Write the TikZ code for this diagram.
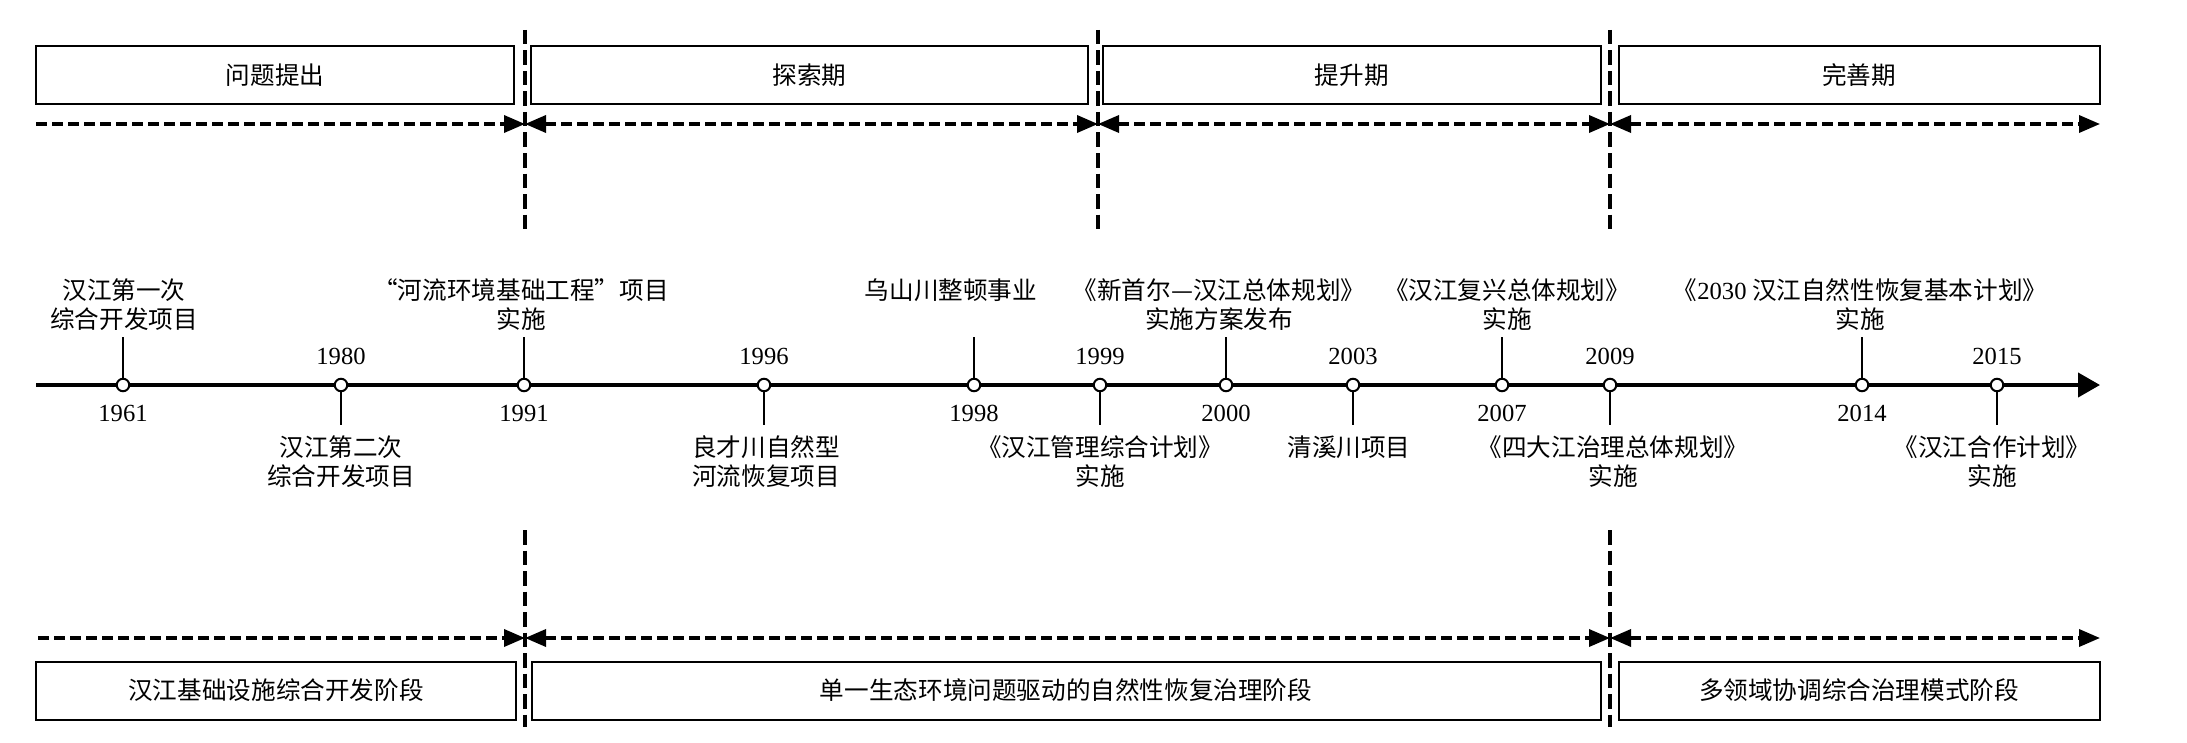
\documentclass[tikz,border=0pt]{standalone}
\usepackage{fontspec}
\setmainfont{Liberation Serif}
\newfontfamily\cjk{Noto Sans CJK SC}
\usetikzlibrary{arrows.meta}
\tikzset{
  box/.style={draw, line width=0.4mm, minimum height=11.6mm},
  divider/.style={line width=0.62mm, dash pattern=on 2.9mm off 1.2mm},
  span/.style={line width=0.7mm, dash pattern=on 2.2mm off 1mm},
  tick/.style={line width=0.4mm},
  dot/.style={circle, draw, fill=white, line width=0.4mm, minimum size=2.5mm, inner sep=0pt},
  year/.style={font=\fontsize{14}{16.5}\selectfont\rmfamily, inner sep=0pt, label distance=2.5mm},
  event/.style={align=center, anchor=north, inner sep=0pt}
}
\begin{document}
\begin{tikzpicture}[x=0.2mm, y=-0.2mm, >={Triangle[length=4.2mm, width=3.4mm]},
  every node/.style={font=\fontsize{14}{16.5}\selectfont\cjk}]
\useasboundingbox (0,0) rectangle (2187,743);
\node[box, minimum width=95.6mm] (p1) at (275,75) {问题提出};
\node[box, minimum width=111.4mm] (p2) at (809.5,75) {探索期};
\node[box, minimum width=99.5mm] (p3) at (1351.75,75) {提升期};
\node[box, minimum width=96.3mm] (p4) at (1859.25,75) {完善期};
\node[box, minimum width=95.8mm] (s1) at (276,690.5) {汉江基础设施综合开发阶段};
\node[box, minimum width=213.8mm] (s2) at (1066,690.5) {单一生态环境问题驱动的自然性恢复治理阶段};
\node[box, minimum width=96.2mm] (s3) at (1859,690.5) {多领域协调综合治理模式阶段};
\draw[divider] (525,30) -- (525,230);
\draw[divider] (1098,30) -- (1098,230);
\draw[divider] (1610,30) -- (1610,230);
\draw[divider] (525,530) -- (525,727);
\draw[divider] (1610,530) -- (1610,727);
\coordinate (t0) at (36,124);
\coordinate (t1) at (525,124);
\coordinate (t2) at (1098,124);
\coordinate (t3) at (1610,124);
\coordinate (t4) at (2100,124);
\coordinate (b0) at (38,638);
\coordinate (b1) at (525,638);
\coordinate (b3) at (1610,638);
\coordinate (b4) at (2100,638);
\tikzset{->}
\draw[span] (t0) -- (t1);
\draw[span] (b0) -- (b1);
\tikzset{<->}
\draw[span] (t1) -- (t2);
\draw[span] (t2) -- (t3);
\draw[span] (t3) -- (t4);
\draw[span] (b1) -- (b3);
\draw[span] (b3) -- (b4);
\tikzset{-}
\coordinate (a0) at (36,385);
\coordinate (a1) at (2100,385);
\draw[line width=0.8mm, -{Triangle[length=4.4mm, width=4.8mm]}] (a0) -- (a1);
\node[dot, label={[year]below:1961}] (e1961) at (123,385) {};
\draw[tick] (e1961) -- ++(0,-48);
\node[event] (x1961) at (124,278) {汉江第一次\\综合开发项目};
\node[dot, label={[year]above:1980}] (e1980) at (341,385) {};
\draw[tick] (e1980) -- ++(0,40);
\node[event] (x1980) at (341,435) {汉江第二次\\综合开发项目};
\node[dot, label={[year]below:1991}] (e1991) at (524,385) {};
\draw[tick] (e1991) -- ++(0,-48);
\node[event] (x1991) at (521,278) {“河流环境基础工程”项目\\实施};
\node[dot, label={[year]above:1996}] (e1996) at (764,385) {};
\draw[tick] (e1996) -- ++(0,40);
\node[event] (x1996) at (766,435) {良才川自然型\\河流恢复项目};
\node[dot, label={[year]below:1998}] (e1998) at (974,385) {};
\draw[tick] (e1998) -- ++(0,-48);
\node[event] (x1998) at (951,278) {乌山川整顿事业};
\node[dot, label={[year]above:1999}] (e1999) at (1100,385) {};
\draw[tick] (e1999) -- ++(0,40);
\node[event] (x1999) at (1100,435) {《汉江管理综合计划》\\实施};
\node[dot, label={[year]below:2000}] (e2000) at (1226,385) {};
\draw[tick] (e2000) -- ++(0,-48);
\node[event] (x2000) at (1219,278) {《新首尔—汉江总体规划》\\实施方案发布};
\node[dot, label={[year]above:2003}] (e2003) at (1353,385) {};
\draw[tick] (e2003) -- ++(0,40);
\node[event] (x2003) at (1349,435) {清溪川项目};
\node[dot, label={[year]below:2007}] (e2007) at (1502,385) {};
\draw[tick] (e2007) -- ++(0,-48);
\node[event] (x2007) at (1507,278) {《汉江复兴总体规划》\\实施};
\node[dot, label={[year]above:2009}] (e2009) at (1610,385) {};
\draw[tick] (e2009) -- ++(0,40);
\node[event] (x2009) at (1613,435) {《四大江治理总体规划》\\实施};
\node[dot, label={[year]below:2014}] (e2014) at (1862,385) {};
\draw[tick] (e2014) -- ++(0,-48);
\node[event] (x2014) at (1860,278) {《{\rmfamily 2030} 汉江自然性恢复基本计划》\\实施};
\node[dot, label={[year]above:2015}] (e2015) at (1997,385) {};
\draw[tick] (e2015) -- ++(0,40);
\node[event] (x2015) at (1992,435) {《汉江合作计划》\\实施};
\end{tikzpicture}
\end{document}
